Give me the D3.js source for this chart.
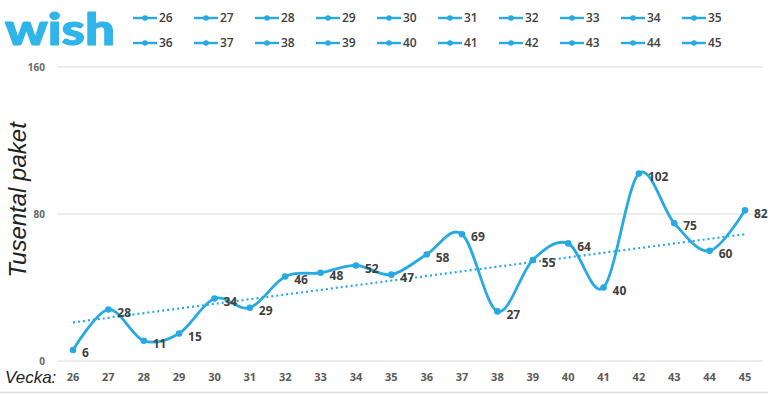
<!DOCTYPE html>
<html><head><meta charset="utf-8">
<script src="https://cdn.jsdelivr.net/npm/d3@7"></script>
<style>body{margin:0;background:#fff;}svg{display:block;}</style>
</head><body>
<script>
const weeks = [26,27,28,29,30,31,32,33,34,35,36,37,38,39,40,41,42,43,44,45];
const values = [6,28,11,15,34,29,46,48,52,47,58,69,27,55,64,40,102,75,60,82];
const trendValues = [21, 69]; // dotted trend line at first and last week
const yTicks = [0, 80, 160];

const W = 768, H = 395;
const blue = "#27a9e1";
const svg = d3.select("body").append("svg").attr("width", W).attr("height", H);

const x = d3.scalePoint().domain(weeks).range([73, 745]);
const y = d3.scaleLinear().domain([0, 160]).range([361, 67]);

// gridlines
svg.append("g").selectAll("line").data(yTicks).join("line")
  .attr("x1", 57).attr("x2", 763)
  .attr("y1", d => y(d)).attr("y2", d => y(d))
  .attr("stroke", "#d9d9d9").attr("stroke-width", 1.2);
// bottom border
svg.append("line").attr("x1", 0).attr("x2", W).attr("y1", 392.5).attr("y2", 392.5)
  .attr("stroke", "#dcdcdc").attr("stroke-width", 1.5);

// y tick labels
svg.append("g").selectAll("text").data(yTicks).join("text")
  .attr("x", 45).attr("y", d => y(d)).attr("dy", "0.35em")
  .attr("text-anchor", "end")
  .attr("font-family", "Open Sans, sans-serif").attr("font-weight", 700)
  .attr("font-size", 10).attr("fill", "#6a6a6a")
  .text(d => d);

// x axis labels
svg.append("g").selectAll("text").data(weeks).join("text")
  .attr("x", d => x(d)).attr("y", 377).attr("dy", "0.35em")
  .attr("text-anchor", "middle")
  .attr("font-family", "Open Sans, sans-serif").attr("font-weight", 700)
  .attr("font-size", 11).attr("fill", "#5a5a5a")
  .text(d => d);

svg.append("text").attr("x", 5).attr("y", 383)
  .attr("font-family", "Liberation Sans, Arial, sans-serif").attr("font-style", "italic")
  .attr("font-size", 17).attr("fill", "#222").text("Vecka:");

svg.append("text")
  .attr("transform", "translate(26,200) rotate(-90)")
  .attr("text-anchor", "middle")
  .attr("font-family", "Liberation Sans, Arial, sans-serif").attr("font-style", "italic")
  .attr("font-size", 24).attr("fill", "#222").text("Tusental paket");

// trend line
svg.append("line")
  .attr("x1", x(weeks[0])).attr("x2", x(weeks[weeks.length-1]))
  .attr("y1", y(trendValues[0])).attr("y2", y(trendValues[1]))
  .attr("stroke", blue).attr("stroke-width", 2.2)
  .attr("stroke-dasharray", "2,3");

// smoothed series line
const data = weeks.map((w, i) => ({w, v: values[i]}));
const line = d3.line().x(d => x(d.w)).y(d => y(d.v)).curve(d3.curveCardinal.tension(0));
svg.append("path").datum(data).attr("d", line)
  .attr("fill", "none").attr("stroke", blue).attr("stroke-width", 2.8);

svg.append("g").selectAll("circle").data(data).join("circle")
  .attr("cx", d => x(d.w)).attr("cy", d => y(d.v)).attr("r", 3.3).attr("fill", blue);

svg.append("g").selectAll("text").data(data).join("text")
  .attr("x", d => x(d.w) + 9).attr("y", d => y(d.v) + 3).attr("dy", "0.35em")
  .attr("font-family", "Open Sans, sans-serif").attr("font-weight", 700)
  .attr("font-size", 12).attr("fill", "#404040")
  .text(d => d.v);

// legend
const leg = svg.append("g").selectAll("g").data(weeks).join("g")
  .attr("transform", (d, i) => `translate(${133 + (i % 10) * 61},${i < 10 ? 18 : 43})`);
leg.append("line").attr("x1", 0).attr("x2", 24).attr("stroke", blue).attr("stroke-width", 2.4);
leg.append("circle").attr("cx", 12).attr("r", 2.8).attr("fill", blue);
leg.append("text").attr("x", 26).attr("dy", "0.35em")
  .attr("font-family", "Open Sans, sans-serif").attr("font-weight", 600)
  .attr("font-size", 12).attr("fill", "#404040").text(d => d);

// logo
svg.append("text").attr("x", 5).attr("y", 45)
  .attr("font-family", "Lato, sans-serif").attr("font-weight", 900)
  .attr("font-size", 44).attr("fill", "#2fb5ea")
  .attr("stroke", "#2fb5ea").attr("stroke-width", 1.2).attr("stroke-linejoin", "round")
  .attr("textLength", 110).attr("lengthAdjust", "spacingAndGlyphs")
  .text("wish");
</script>
</body></html>
